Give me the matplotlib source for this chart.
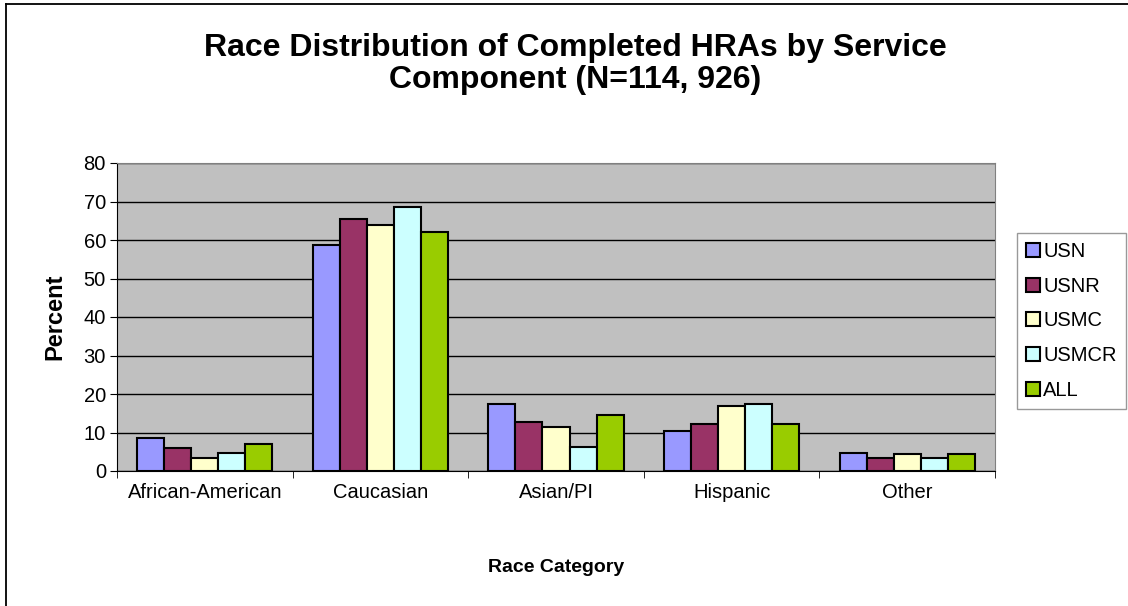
import numpy as np
import matplotlib
matplotlib.use("Agg")
import matplotlib.pyplot as plt
from matplotlib.lines import Line2D

plt.rcParams['font.family'] = ['Liberation Sans', 'DejaVu Sans']

categories = ["African-American", "Caucasian", "Asian/PI", "Hispanic", "Other"]
series_names = ["USN", "USNR", "USMC", "USMCR", "ALL"]
usn = [8.5, 58.7, 17.4, 10.4, 4.8]
usnr = [5.9, 65.4, 12.7, 12.3, 3.5]
usmc = [3.3, 64.0, 11.4, 16.9, 4.3]
usmcr = [4.8, 68.5, 6.2, 17.3, 3.3]
all_ = [6.9, 62.0, 14.5, 12.3, 4.3]
colors = ["#9999FF", "#993366", "#FFFFCC", "#CCFFFF", "#99CC00"]

values = [usn, usnr, usmc, usmcr, all_]

W, H = 1128, 606
fig = plt.figure(figsize=(W / 100, H / 100), dpi=100)
ax = fig.add_axes([117 / W, 1 - 471 / H, 878 / W, 308 / H])
ax.set_facecolor("#C0C0C0")

x = np.arange(len(categories))
w = 0.154
for i, (name, vals) in enumerate(zip(series_names, values)):
    ax.bar(x + (i - 2) * w, vals, w, color=colors[i], edgecolor="black",
           linewidth=1.5, label=name, zorder=3)

ax.set_xlim(-0.5, len(categories) - 0.5)
ax.set_ylim(0, 80)
ax.set_yticks(range(0, 81, 10))
ax.yaxis.grid(True, color="black", linewidth=1, zorder=1)
ax.set_axisbelow(True)

ax.set_xticks(x)
ax.set_xticklabels(categories, fontsize=14.5)
ax.set_xticks(np.arange(-0.5, len(categories)), minor=True)
ax.tick_params(axis="x", which="major", length=0, pad=9)
ax.tick_params(axis="x", which="minor", length=5, color="black")
ax.tick_params(axis="y", labelsize=14.5, length=5, pad=3)

for s in ["top", "right"]:
    ax.spines[s].set_color("#808080")
for s in ["left", "bottom"]:
    ax.spines[s].set_color("black")

ax.set_ylabel("Percent", fontsize=17, fontweight="bold", labelpad=12)
fig.text(556 / W, 1 - 568 / H, "Race Category", fontsize=14,
         fontweight="bold", ha="center", va="center")
fig.text(575 / W, 1 - 64 / H,
         "Race Distribution of Completed HRAs by Service\nComponent (N=114, 926)",
         fontsize=23, fontweight="bold", ha="center", va="center",
         linespacing=1.12)

leg = ax.legend(loc="upper left", bbox_to_anchor=(1017 / W, 1 - 233 / H),
                bbox_transform=fig.transFigure, fontsize=14.5, frameon=True,
                fancybox=False, edgecolor="#808080", handlelength=0.7,
                handleheight=0.7, handletextpad=0.15, labelspacing=0.78,
                borderpad=0.45, borderaxespad=0)
leg.get_frame().set_linewidth(1.0)
for h in leg.legend_handles:
    h.set_linewidth(1.5)

# outer frame (left and top edges only)
fig.add_artist(Line2D([6 / W, 6 / W], [0, 1 - 4 / H], transform=fig.transFigure,
                      color="black", linewidth=1.3))
fig.add_artist(Line2D([6 / W, 1], [1 - 4 / H, 1 - 4 / H], transform=fig.transFigure,
                      color="black", linewidth=1.3))

fig.savefig("out.png", dpi=100)
